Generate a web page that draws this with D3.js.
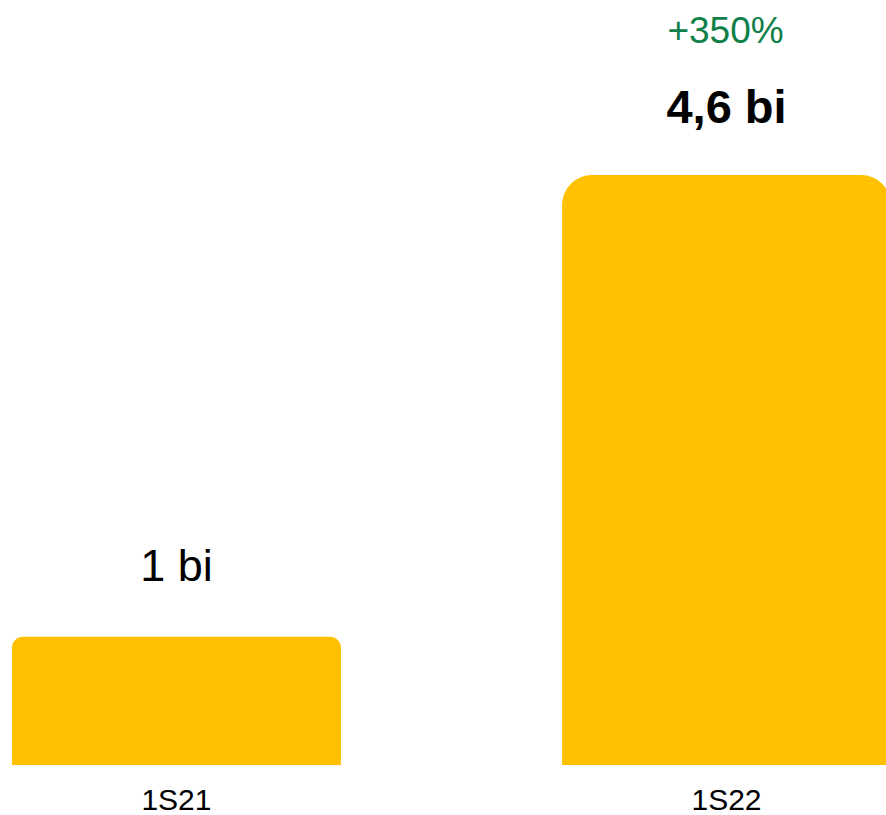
<!DOCTYPE html>
<html>
<head>
<meta charset="utf-8">
<script src="https://cdn.jsdelivr.net/npm/d3@7"></script>
<style>
  body { margin: 0; background: #fff; overflow: hidden; }
  svg { display: block; font-family: "Liberation Sans", Arial, sans-serif; }
</style>
</head>
<body>
<div id="chart"></div>
<script>
const categories = ["1S21", "1S22"];
const values = [1, 4.6];
const valueLabels = ["1 bi", "4,6 bi"];
const growthLabel = "+350%";

const width = 886;
const height = 815;
const barColor = "#FFC000";
const cornerRadius = [11, 30];

const svg = d3.select("#chart")
    .append("svg")
    .attr("width", width)
    .attr("height", height);

const x = d3.scaleBand()
    .domain(categories)
    .range([12, 891])
    .paddingInner(0.402)
    .paddingOuter(0);

const y = d3.scaleLinear()
    .domain([0, 4.6])
    .range([765, 175]);

// barra com cantos superiores arredondados
function topRounded(x0, y0, w, h, r) {
    return `M${x0},${y0 + h}V${y0 + r}A${r},${r} 0 0 1 ${x0 + r},${y0}` +
        `H${x0 + w - r}A${r},${r} 0 0 1 ${x0 + w},${y0 + r}V${y0 + h}Z`;
}

svg.selectAll("path.bar")
    .data(values)
    .enter()
    .append("path")
    .attr("class", "bar")
    .attr("fill", barColor)
    .attr("d", (d, i) => topRounded(x(categories[i]), y(d), x.bandwidth(), y(0) - y(d), cornerRadius[i]));

// rótulos de valor
svg.selectAll("text.value")
    .data(values)
    .enter()
    .append("text")
    .attr("class", "value")
    .attr("x", (d, i) => x(categories[i]) + x.bandwidth() / 2)
    .attr("y", (d, i) => i === 0 ? y(d) - 56 : y(d) - 52)
    .attr("text-anchor", "middle")
    .attr("font-size", (d, i) => i === 0 ? "45px" : "47px")
    .attr("font-weight", (d, i) => i === 0 ? "normal" : "bold")
    .attr("fill", "#000")
    .text((d, i) => valueLabels[i]);

// crescimento
svg.append("text")
    .attr("x", x(categories[1]) + x.bandwidth() / 2 - 1)
    .attr("y", 43)
    .attr("text-anchor", "middle")
    .attr("font-size", "37px")
    .attr("fill", "#0E8048")
    .text(growthLabel);

// eixo x (só rótulos)
svg.selectAll("text.cat")
    .data(categories)
    .enter()
    .append("text")
    .attr("class", "cat")
    .attr("x", d => x(d) + x.bandwidth() / 2)
    .attr("y", 810)
    .attr("text-anchor", "middle")
    .attr("font-size", "30px")
    .attr("fill", "#000")
    .text(d => d);
</script>
</body>
</html>
